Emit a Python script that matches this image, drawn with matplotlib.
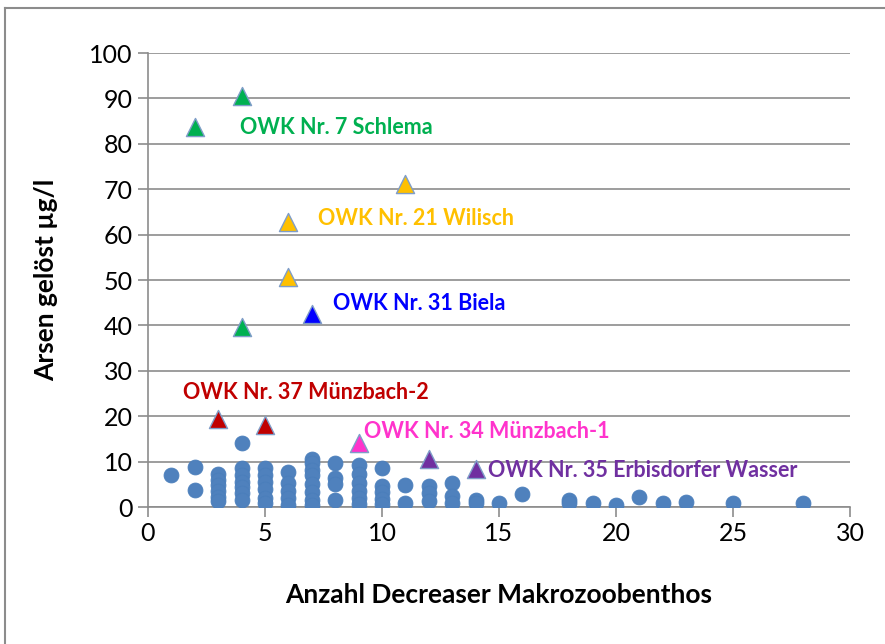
import numpy as np
import matplotlib.pyplot as plt
from matplotlib.lines import Line2D

# Decreaser counts and dissolved arsenic (µg/l) for all water bodies
decr_x = [1, 2, 2,
          3, 3, 3, 3, 3, 3,
          4, 4, 4, 4, 4, 4, 4,
          5, 5, 5, 5, 5, 5,
          6, 6, 6, 6, 6,
          7, 7, 7, 7, 7, 7, 7, 7,
          8, 8, 8, 8,
          9, 9, 9, 9, 9, 9,
          10, 10, 10, 10, 10,
          11, 11,
          12, 12, 12,
          13, 13, 13,
          14, 14,
          15, 16, 18, 18, 19, 20, 21, 22, 23, 25, 28]
arsen = [7.0, 8.9, 3.8,
         7.3, 6.0, 4.8, 3.5, 2.3, 1.3,
         14.2, 8.5, 7.0, 5.6, 4.3, 3.0, 1.6,
         8.5, 7.0, 5.5, 4.0, 2.0, 0.9,
         7.7, 5.2, 3.6, 2.0, 0.5,
         10.6, 9.6, 8.2, 7.0, 5.0, 3.2, 1.6, 0.5,
         9.6, 6.4, 5.0, 1.5,
         9.2, 7.3, 5.4, 3.5, 2.0, 0.6,
         8.6, 4.6, 3.2, 1.8, 0.6,
         4.8, 0.8,
         4.7, 3.0, 1.4,
         5.2, 2.5, 0.9,
         1.5, 0.8,
         0.9, 2.8, 1.6, 0.9, 0.8, 0.5, 2.1, 0.8, 1.1, 0.8, 0.8]

# Highlighted water bodies (OWK)
owk_names = ['OWK Nr. 7 Schlema', 'OWK Nr. 21 Wilisch', 'OWK Nr. 31 Biela',
             'OWK Nr. 37 Münzbach-2', 'OWK Nr. 34 Münzbach-1',
             'OWK Nr. 35 Erbisdorfer Wasser']
owk_colors = ['#00B050', '#FFC000', '#0000FF', '#C00000', '#FF33CC', '#7030A0']
owk_x = [[4, 2, 4], [11, 6, 6], [7], [3, 5], [9], [12, 14]]
owk_y = [[90.5, 83.7, 39.6], [71.2, 62.7, 50.6], [42.6], [19.3, 18.1], [14.0], [10.5, 8.4]]
owk_label_pos = [(3.95, 83.5), (7.25, 63.6), (7.9, 44.8), (1.5, 25.2), (9.25, 16.6), (14.55, 8.1)]

fig = plt.figure(figsize=(8.85, 6.44), dpi=100)
ax = fig.add_axes([0.1672, 0.2127, 0.7933, 0.705])

ax.scatter(decr_x, arsen, s=115, color='#4F81BD', edgecolors='#4A7EBB', linewidths=0.6, zorder=3)

for name, c, xs, ys, (lx, ly) in zip(owk_names, owk_colors, owk_x, owk_y, owk_label_pos):
    ax.scatter(xs, ys, s=170, marker='^', color=c, edgecolors='#7F9DC8', linewidths=1.0, zorder=4)
    ax.text(lx, ly, name, color=c, fontsize=15.5, fontweight='bold', family='Lato',
            va='center', ha='left', zorder=5)

ax.set_xlim(0, 30)
ax.set_ylim(0, 100)
ax.set_xticks(np.arange(0, 31, 5))
ax.set_yticks(np.arange(0, 101, 10))
ax.yaxis.grid(True, color='#8C8C8C', linewidth=1.2)
ax.set_axisbelow(True)
for side in ['top', 'right']:
    ax.spines[side].set_visible(False)
for side in ['left', 'bottom']:
    ax.spines[side].set_color('#8C8C8C')
    ax.spines[side].set_linewidth(1.2)
ax.tick_params(axis='both', direction='out', length=7, width=1.2, color='#8C8C8C',
               labelsize=18, pad=4)
for lab in ax.get_xticklabels() + ax.get_yticklabels():
    lab.set_family('Lato')

ax.set_xlabel('Anzahl Decreaser Makrozoobenthos', fontsize=19, fontweight='bold',
              family='Lato', labelpad=27)
ax.set_ylabel('Arsen gelöst µg/l', fontsize=19, fontweight='bold', family='Lato', labelpad=22)

# chart area frame (left and top edge)
fig.add_artist(Line2D([0.006, 0.006], [0, 0.988], transform=fig.transFigure, color='#8C8C8C', lw=1.5))
fig.add_artist(Line2D([0.006, 1.0], [0.988, 0.988], transform=fig.transFigure, color='#8C8C8C', lw=1.5))

fig.savefig('out.png', dpi=100)
